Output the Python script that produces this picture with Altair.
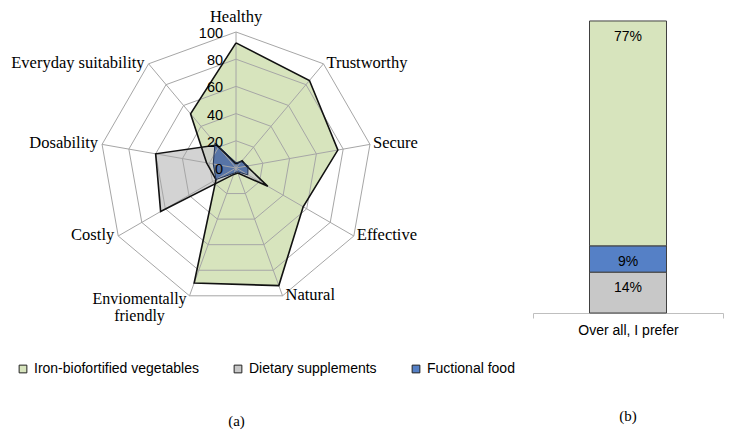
import altair as alt
import pandas as pd

# radar (a): share of respondents per attribute, %
categories = ["Healthy", "Trustworthy", "Secure", "Effective", "Natural",
              "Enviomentally friendly", "Costly", "Dosability", "Everyday suitability"]
iron_veg = [92, 84, 76, 57, 92, 90, 17, 22, 52]
supplements = [3, 7, 8, 27, 4, 5, 64, 60, 22]
functional = [4, 6, 9, 10, 3, 4, 17, 17, 24]
ring_levels = [0, 20, 40, 60, 80, 100]

series_names = ["Iron-biofortified vegetables", "Dietary supplements", "Fuctional food"]
series_colors = ["#D7E4BD", "#C8C8C8", "#5580C6"]

# bar (b): overall preference, bottom to top
prefer_label = "Over all, I prefer"
prefer_series = ["Dietary supplements", "Fuctional food", "Iron-biofortified vegetables"]
prefer_share = [14, 9, 77]

n = len(categories)
rows = []
for name, vals in zip(series_names, [iron_veg, supplements, functional]):
    for i in range(n + 1):  # repeat first point to close the shape
        rows.append({"series": name, "idx": i, "v": vals[i % n]})
radar_df = pd.DataFrame(rows)

grid_df = pd.DataFrame([{"level": lv, "idx": i, "v": lv}
                        for lv in ring_levels[1:] for i in range(n + 1)])
cat_df = pd.DataFrame({"idx": list(range(n)), "v": [100] * n, "cat": categories})
tick_df = pd.DataFrame({"idx": [0] * len(ring_levels), "v": ring_levels,
                        "lbl": [str(t) for t in ring_levels]})

fill_scale = alt.Scale(domain=series_names, range=series_colors)
xs = alt.Scale(domain=[-166.9, 167.6], nice=False, zero=False)
ys = alt.Scale(domain=[-177.2, 116.9], nice=False, zero=False)
X = alt.X("px:Q", scale=xs, axis=None)
Y = alt.Y("py:Q", scale=ys, axis=None)

serif = "Liberation Serif"
sans = "Liberation Sans"


def polar(ch):
    return ch.transform_calculate(
        theta=f"datum.idx * 2 * PI / {n}"
    ).transform_calculate(
        px="datum.v * sin(datum.theta)",
        py="datum.v * cos(datum.theta)",
    )


legend = alt.Legend(orient="none", legendX=7, legendY=353, direction="horizontal",
                    title=None, symbolType="square", symbolSize=60,
                    symbolStrokeColor="#222222", symbolStrokeWidth=1,
                    labelFont=sans, labelFontSize=14, labelColor="#000000",
                    labelLimit=300, columnPadding=32, labelOffset=4)

layers = []
# green and grey take their colour from the shared scale, blue is drawn darker
for name, op in zip(series_names[:2], [1.0, 0.8]):
    layers.append(
        polar(alt.Chart(radar_df)).transform_filter(alt.datum.series == name)
        .mark_line(strokeOpacity=0, fillOpacity=op)
        .encode(x=X, y=Y, order=alt.Order("idx:Q"),
                fill=alt.Fill("series:N", scale=fill_scale, legend=legend))
    )
layers.append(
    polar(alt.Chart(radar_df)).transform_filter(alt.datum.series == series_names[2])
    .mark_line(strokeOpacity=0, fill="#4D6CA3", fillOpacity=0.92)
    .encode(x=X, y=Y, order=alt.Order("idx:Q"))
)

rings = polar(alt.Chart(grid_df)).mark_line(stroke="#A6A6A6", strokeWidth=1).encode(
    x=X, y=Y, detail="level:N", order=alt.Order("idx:Q"))

spokes = polar(alt.Chart(cat_df)).transform_calculate(ox="0", oy="0").mark_rule(
    stroke="#A6A6A6", strokeWidth=1).encode(
    x=alt.X("ox:Q", scale=xs, axis=None), y=alt.Y("oy:Q", scale=ys, axis=None),
    x2="px:Q", y2="py:Q")
layers += [rings, spokes]

outline_style = {series_names[0]: ("#111111", 1.6),
                 series_names[1]: ("#111111", 1.6),
                 series_names[2]: ("#1F2F50", 1.0)}
for name in series_names:
    col, w = outline_style[name]
    layers.append(
        polar(alt.Chart(radar_df)).transform_filter(alt.datum.series == name)
        .mark_line(stroke=col, strokeWidth=w)
        .encode(x=X, y=Y, order=alt.Order("idx:Q"))
    )

ticks = polar(alt.Chart(tick_df)).mark_text(
    align="right", baseline="middle", dx=-13, dy=2, font=sans, fontSize=14.5,
    color="#000000").encode(x=X, y=Y, text="lbl:N")
layers.append(ticks)

cats = polar(alt.Chart(cat_df))
lab_kw = dict(font=serif, fontSize=16.5, color="#000000")
layers.append(cats.transform_filter("datum.idx == 0").mark_text(
    align="center", baseline="bottom", dy=-7, **lab_kw).encode(x=X, y=Y, text="cat:N"))
layers.append(cats.transform_filter("datum.idx >= 1 && datum.idx <= 4").mark_text(
    align="left", baseline="middle", dx=3, dy=-1, **lab_kw).encode(x=X, y=Y, text="cat:N"))
layers.append(cats.transform_filter("datum.idx == 5").mark_text(
    align="center", baseline="middle", dx=-50, dy=3, lineBreak=" ", lineHeight=17,
    font=serif, fontSize=16, color="#000000").encode(x=X, y=Y, text="cat:N"))
layers.append(cats.transform_filter("datum.idx >= 6").mark_text(
    align="right", baseline="middle", dx=-4, dy=-1, **lab_kw).encode(x=X, y=Y, text="cat:N"))

radar = alt.layer(*layers).properties(
    width=455, height=400,
    title=alt.TitleParams("(a)", orient="bottom", offset=5, font=serif, fontSize=15,
                          fontWeight="normal", color="#000000"))

bar_df = pd.DataFrame({"q": prefer_label, "series": prefer_series,
                       "share": prefer_share, "pos": list(range(len(prefer_share)))})

xb = alt.X("q:N", title=None,
           scale=alt.Scale(paddingInner=0, paddingOuter=0),
           axis=alt.Axis(labelAngle=0, domainColor="#BFBFBF", tickColor="#BFBFBF",
                         tickBand="extent", tickSize=5, labelFont=sans, labelFontSize=14,
                         labelColor="#000000", labelPadding=5))
yb_scale = alt.Scale(domain=[0, 104.1], nice=False, zero=True)

bars = alt.Chart(bar_df).mark_bar(size=77, stroke="#404040", strokeWidth=1).encode(
    x=xb,
    y=alt.Y("share:Q", stack="zero", scale=yb_scale, axis=None),
    fill=alt.Fill("series:N", scale=fill_scale, legend=legend),
    order=alt.Order("pos:Q"),
)
bar_text = alt.Chart(bar_df).transform_window(
    share_end="sum(share)", sort=[alt.SortField("pos", order="ascending")]
).transform_calculate(lbl="datum.share + '%'").mark_text(
    baseline="middle", dy=16, font=sans, fontSize=14, color="#000000"
).encode(x=xb, y=alt.Y("share_end:Q", scale=yb_scale, axis=None), text="lbl:N")

bar = alt.layer(bars, bar_text).properties(
    width=190, height=304,
    title=alt.TitleParams("(b)", orient="bottom", offset=72, font=serif, fontSize=15,
                          fontWeight="normal", color="#000000"))

chart = alt.hconcat(radar, bar, spacing=69, bounds="flush").properties(
    padding=0
).configure_view(stroke="transparent")

chart.save("out.html", embed_options={"renderer": "svg", "actions": False})
